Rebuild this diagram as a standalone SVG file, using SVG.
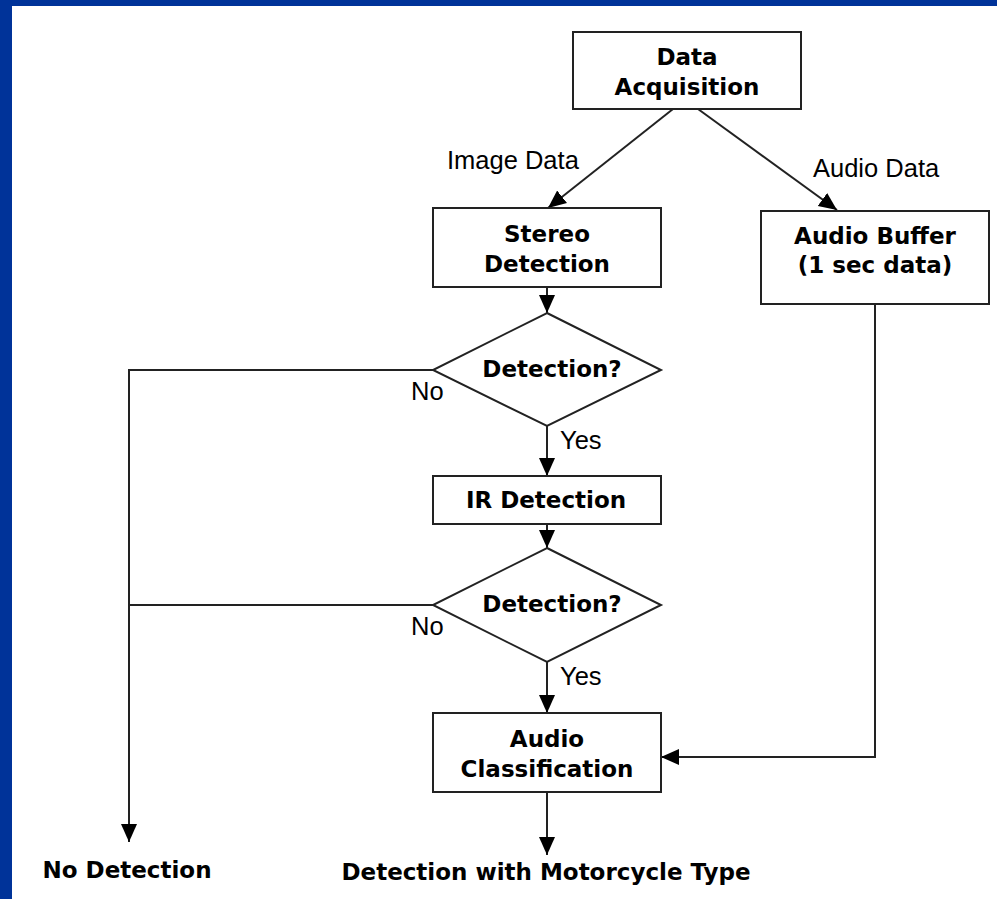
<svg xmlns="http://www.w3.org/2000/svg" width="997" height="899" viewBox="0 0 997 899">
<style>
.box{fill:#fff;stroke:#222;stroke-width:2}
.ln{fill:none;stroke:#222;stroke-width:2}
.b{font-family:"DejaVu Sans",Verdana,sans-serif;font-weight:bold;font-size:23px;fill:#000;text-anchor:middle}
.r{font-family:"Liberation Sans",Arial,sans-serif;font-size:25.5px;fill:#000}
</style>
<defs>
<marker id="ah" markerUnits="userSpaceOnUse" markerWidth="18" markerHeight="18" viewBox="0 0 18 18" refX="18" refY="9" orient="auto">
<path d="M0,1 L18,9 L0,17 Z" fill="#000"/>
</marker>
</defs>
<rect x="0" y="0" width="997" height="899" fill="#fff"/>
<rect x="0" y="0" width="997" height="6" fill="#003399"/>
<rect x="0" y="0" width="12" height="899" fill="#003399"/>

<g id="connectors">
<line class="ln" x1="673" y1="109" x2="548" y2="208" marker-end="url(#ah)"/>
<line class="ln" x1="698" y1="109" x2="837" y2="210" marker-end="url(#ah)"/>
<line class="ln" x1="547" y1="287" x2="547" y2="313" marker-end="url(#ah)"/>
<line class="ln" x1="547" y1="426" x2="547" y2="476" marker-end="url(#ah)"/>
<line class="ln" x1="547" y1="524" x2="547" y2="548" marker-end="url(#ah)"/>
<line class="ln" x1="547" y1="662" x2="547" y2="713" marker-end="url(#ah)"/>
<line class="ln" x1="547" y1="792" x2="547" y2="855" marker-end="url(#ah)"/>
<polyline class="ln" points="875,304 875,757 661,757" marker-end="url(#ah)"/>
<polyline class="ln" points="433,370 129,370 129,842" marker-end="url(#ah)"/>
<line class="ln" x1="433" y1="605" x2="129" y2="605"/>
<text class="r" x="447" y="169">Image Data</text>
<text class="r" x="813" y="177">Audio Data</text>
<text class="r" x="560" y="449">Yes</text>
<text class="r" x="560" y="685">Yes</text>
<text class="r" x="411" y="400">No</text>
<text class="r" x="411" y="635">No</text>
</g>

<g id="data-acquisition">
<rect class="box" x="573" y="32" width="228" height="77"/>
<text class="b" x="687" y="65">Data</text>
<text class="b" x="687" y="95">Acquisition</text>
</g>
<g id="stereo-detection">
<rect class="box" x="433" y="208" width="228" height="79"/>
<text class="b" x="547" y="242">Stereo</text>
<text class="b" x="547" y="272">Detection</text>
</g>
<g id="audio-buffer">
<rect class="box" x="761" y="211" width="228" height="93"/>
<text class="b" x="875" y="244">Audio Buffer</text>
<text class="b" x="875" y="273">(1 sec data)</text>
</g>
<g id="decision-1">
<polygon class="box" points="547,313 661,370 547,426 433,370"/>
<text class="b" x="552" y="377">Detection?</text>
</g>
<g id="ir-detection">
<rect class="box" x="433" y="476" width="228" height="48"/>
<text class="b" x="546" y="508">IR Detection</text>
</g>
<g id="decision-2">
<polygon class="box" points="547,548 661,605 547,662 433,605"/>
<text class="b" x="552" y="612">Detection?</text>
</g>
<g id="audio-classification">
<rect class="box" x="433" y="713" width="228" height="79"/>
<text class="b" x="547" y="747">Audio</text>
<text class="b" x="547" y="777">Classification</text>
</g>
<g id="no-detection">
<text class="b" x="127" y="878">No Detection</text>
</g>
<g id="detection-type">
<text class="b" x="546" y="880">Detection with Motorcycle Type</text>
</g>
</svg>
